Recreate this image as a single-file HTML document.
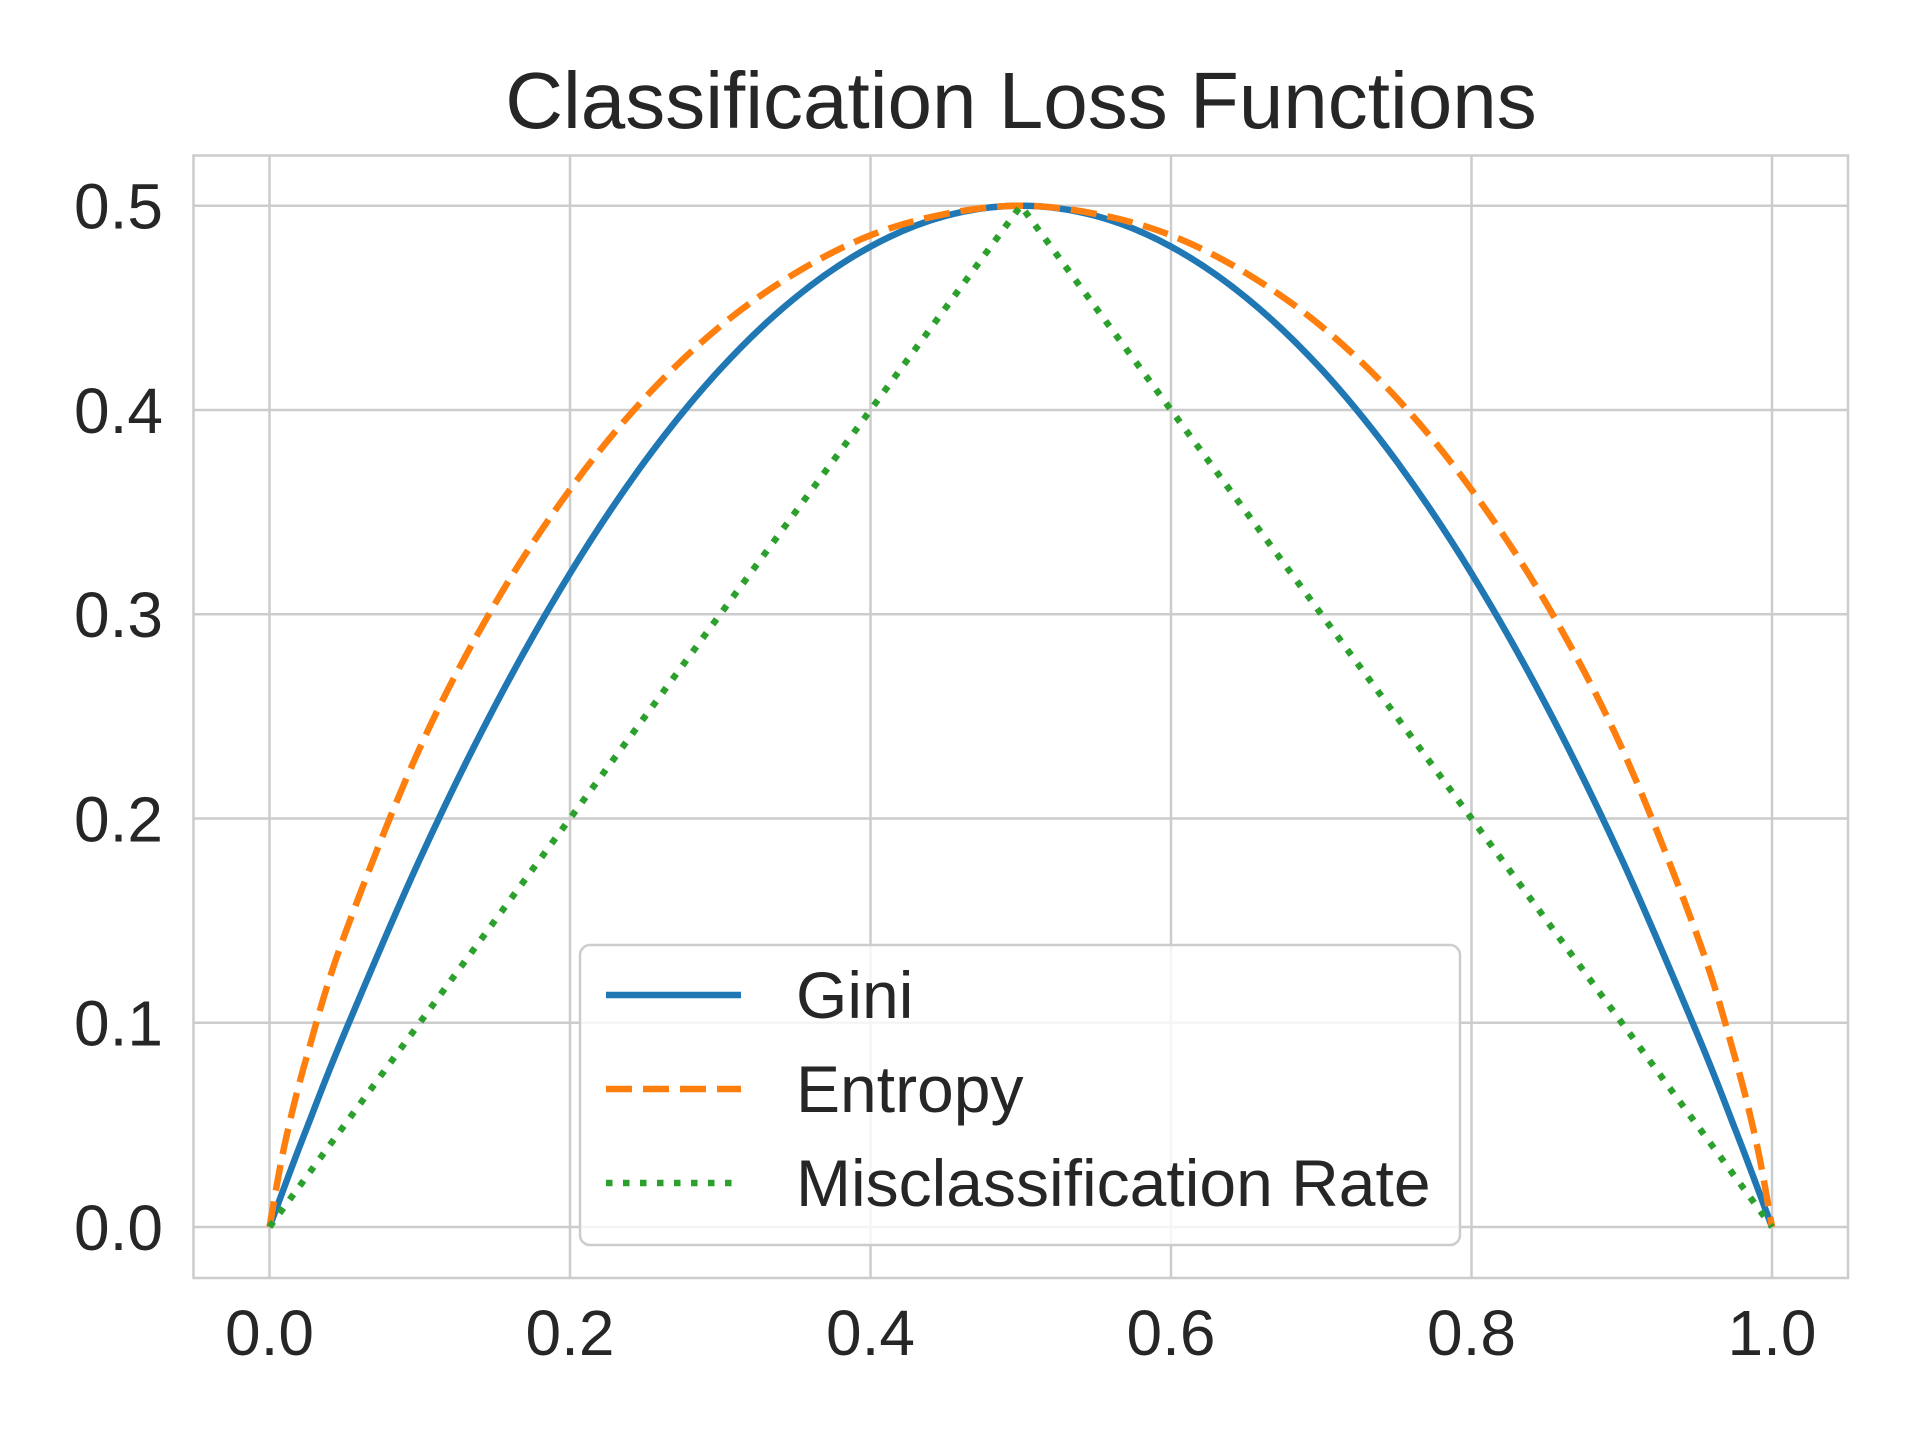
<!DOCTYPE html>
<html><head><meta charset="utf-8"><style>
html,body{margin:0;padding:0;background:#fff;}
svg{display:block;font-family:"Liberation Sans",Arial,sans-serif;}
</style></head><body>
<svg id="chart" width="1920" height="1440" viewBox="0 0 1920 1440">
<rect width="1920" height="1440" fill="#fff"/>
<text x="1021" y="128" font-size="80" fill="#262626" text-anchor="middle">Classification Loss Functions</text>
<g id="grid"></g>
<rect x="193.5" y="155.5" width="1654.5" height="1122.5" fill="none" stroke="#cccccc" stroke-width="2.5"/>
<g id="series"></g>
<g id="ticks"></g>
<g>
<rect x="580" y="945" width="880" height="300" rx="10" fill="#fff" fill-opacity="0.8" stroke="#cccccc" stroke-width="2.5"/>
<line x1="606" y1="995" x2="741" y2="995" stroke="#1f77b4" stroke-width="6.5"/>
<text x="796" y="1018" font-size="66" fill="#262626">Gini</text>
<line x1="606" y1="1089" x2="741" y2="1089" stroke="#ff7f0e" stroke-width="6.5" stroke-dasharray="26 11"/>
<text x="796" y="1112" font-size="66" fill="#262626">Entropy</text>
<line x1="606" y1="1183" x2="741" y2="1183" stroke="#2ca02c" stroke-width="6.5" stroke-dasharray="6.5 10.5"/>
<text x="796" y="1206" font-size="66" fill="#262626">Misclassification Rate</text>
</g>
</svg>
<script>
const pValues = [0,0.01,0.025,0.05,0.1,0.15,0.2,0.25,0.3,0.35,0.4,0.45,0.5,0.55,0.6,0.65,0.7,0.75,0.8,0.85,0.9,0.95,0.975,0.99,1];
const giniValues = [0,0.0198,0.0488,0.095,0.18,0.255,0.32,0.375,0.42,0.455,0.48,0.495,0.5,0.495,0.48,0.455,0.42,0.375,0.32,0.255,0.18,0.095,0.0488,0.0198,0];
const entropyValues = [0,0.040,0.084,0.143,0.2345,0.305,0.361,0.406,0.441,0.467,0.4855,0.496,0.5,0.496,0.4855,0.467,0.441,0.406,0.361,0.305,0.2345,0.143,0.084,0.040,0];
const misPValues = [0,0.5,1];
const misValues = [0,0.5,0];
const xTicks = ["0.0","0.2","0.4","0.6","0.8","1.0"];
const yTicks = ["0.0","0.1","0.2","0.3","0.4","0.5"];

const NS="http://www.w3.org/2000/svg";
const xs=v=>269.5+v*(1772-269.5);
const ys=v=>1227-v*(1227-205.7)/0.5;
const grid=document.getElementById('grid'), ticks=document.getElementById('ticks'), series=document.getElementById('series');
xTicks.forEach(t=>{const v=parseFloat(t);
 const l=document.createElementNS(NS,'line');
 l.setAttribute('x1',xs(v));l.setAttribute('x2',xs(v));l.setAttribute('y1',155.5);l.setAttribute('y2',1278);
 l.setAttribute('stroke','#cccccc');l.setAttribute('stroke-width','2.5');
 
 
 grid.appendChild(l);
 const tx=document.createElementNS(NS,'text');
 tx.setAttribute('x',xs(v));tx.setAttribute('y',1355);tx.setAttribute('font-size','64');tx.setAttribute('fill','#262626');tx.setAttribute('text-anchor','middle');
 tx.textContent=t;
 
 
 ticks.appendChild(tx);
});
yTicks.forEach(t=>{const v=parseFloat(t);
 const l=document.createElementNS(NS,'line');
 l.setAttribute('x1',193.5);l.setAttribute('x2',1848);l.setAttribute('y1',ys(v));l.setAttribute('y2',ys(v));
 l.setAttribute('stroke','#cccccc');l.setAttribute('stroke-width','2.5');
 
 
 grid.appendChild(l);
 const tx=document.createElementNS(NS,'text');
 tx.setAttribute('x',163);tx.setAttribute('y',ys(v)+23);tx.setAttribute('font-size','64');tx.setAttribute('fill','#262626');tx.setAttribute('text-anchor','end');
 tx.textContent=t;
 
 
 ticks.appendChild(tx);
});
function smoothPath(pts){
 let d='M'+pts[0][0].toFixed(1)+','+pts[0][1].toFixed(1);
 for(let i=0;i<pts.length-1;i++){
  const p0=pts[Math.max(0,i-1)],p1=pts[i],p2=pts[i+1],p3=pts[Math.min(pts.length-1,i+2)];
  const c1=[p1[0]+(p2[0]-p0[0])/6,p1[1]+(p2[1]-p0[1])/6];
  const c2=[p2[0]-(p3[0]-p1[0])/6,p2[1]-(p3[1]-p1[1])/6];
  d+=' C'+c1[0].toFixed(1)+','+c1[1].toFixed(1)+' '+c2[0].toFixed(1)+','+c2[1].toFixed(1)+' '+p2[0].toFixed(1)+','+p2[1].toFixed(1);
 }
 return d;
}
function addLine(px,vals,color,dash,name,smooth){
 const pts=px.map((p,i)=>[xs(p),ys(vals[i])]);
 const pl=document.createElementNS(NS,'path');
 pl.setAttribute('d',smooth?smoothPath(pts):'M'+pts.map(q=>q[0].toFixed(1)+','+q[1].toFixed(1)).join(' L'));
 pl.setAttribute('fill','none');pl.setAttribute('stroke',color);pl.setAttribute('stroke-width','6.5');
 pl.setAttribute('stroke-linejoin','round');
 if(dash)pl.setAttribute('stroke-dasharray',dash);
 
 
 series.appendChild(pl);
}
addLine(pValues,giniValues,'#1f77b4',null,'gini-line',true);
addLine(pValues,entropyValues,'#ff7f0e','26 11','entropy-line',true);
addLine(misPValues,misValues,'#2ca02c','6.5 10.5','misclassification-line',false);
</script>
</body></html>
